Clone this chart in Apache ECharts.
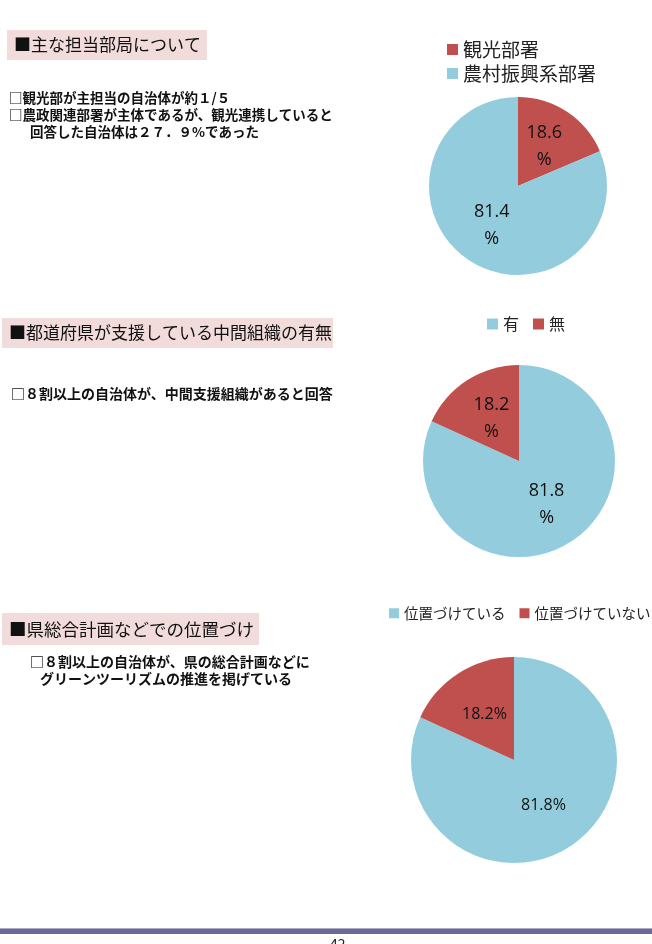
<!DOCTYPE html>
<html><head><meta charset="utf-8">
<script src="https://cdn.jsdelivr.net/npm/echarts@6/dist/echarts.min.js"></script>
<style>html,body{margin:0;padding:0;background:#fff}#c{width:652px;height:944px}</style>
</head><body><div id="c"></div>
<script>
// Data
const pie1Names = ['観光部署', '農村振興系部署'];
const pie1Values = [18.6, 81.4];
const pie2Names = ['有', '無'];
const pie2Values = [81.8, 18.2];
const pie3Names = ['位置づけている', '位置づけていない'];
const pie3Values = [81.8, 18.2];
const headings = ['■主な担当部局について', '■都道府県が支援している中間組織の有無', '■県総合計画などでの位置づけ'];
const notes1 = ['□観光部が主担当の自治体が約１/５', '□農政関連部署が主体であるが、観光連携していると', '回答した自治体は２７．９%であった'];
const notes2 = ['□８割以上の自治体が、中間支援組織があると回答'];
const notes3 = ['□８割以上の自治体が、県の総合計画などに', 'グリーンツーリズムの推進を掲げている'];

const RED = '#c0504d', BLUE = '#93cddd';
const JP = '"Noto Sans CJK JP", sans-serif';
const NUM = '"Open Sans", "Noto Sans", sans-serif';

function items(names, values, colors) {
  return names.map((n, i) => ({ name: n, value: values[i], itemStyle: { color: colors[i] } }));
}
function box(x, y, w, h, text, fs) {
  return [
    { type: 'rect', shape: { x: x, y: y, width: w, height: h }, style: { fill: '#f2dcdb' } },
    { type: 'text', x: x + 7, y: y + h / 2, style: { text: text, font: fs + 'px ' + JP, fill: '#111', verticalAlign: 'middle' } }
  ];
}
function note(x, y, text, fs) {
  return { type: 'text', x: x, y: y, style: { text: text, font: 'bold ' + fs + 'px ' + JP, fill: '#111', verticalAlign: 'middle' } };
}

const chart = echarts.init(document.getElementById('c'));
chart.setOption({
  animation: false,
  legend: [
    { data: pie1Names, orient: 'vertical', left: 442, top: 35, itemWidth: 11, itemHeight: 11, itemGap: 5, icon: 'rect',
      textStyle: { fontFamily: JP, fontSize: 19, color: '#222' } },
    { data: pie2Names, orient: 'horizontal', left: 482, top: 311, itemWidth: 11, itemHeight: 11, itemGap: 14, icon: 'rect',
      textStyle: { fontFamily: JP, fontSize: 16, color: '#222' } },
    { data: pie3Names, orient: 'horizontal', left: 384, top: 601, width: 300, itemWidth: 10, itemHeight: 10, itemGap: 14, icon: 'rect',
      textStyle: { fontFamily: JP, fontSize: 14.5, color: '#222' } }
  ],
  series: [
    { type: 'pie', center: [518, 186], radius: 89, startAngle: 90, clockwise: true,
      data: items(pie1Names, pie1Values, [RED, BLUE]),
      label: { position: 'inside', formatter: '{c}\n%', fontFamily: NUM, fontSize: 18, lineHeight: 27, color: '#111' },
      labelLine: { show: false }, emphasis: { disabled: true } },
    { type: 'pie', center: [519, 461], radius: 96, startAngle: 90, clockwise: true,
      data: items(pie2Names, pie2Values, [BLUE, RED]),
      label: { position: 'inside', formatter: '{c}\n%', fontFamily: NUM, fontSize: 18, lineHeight: 27, color: '#111' },
      labelLine: { show: false }, emphasis: { disabled: true } },
    { type: 'pie', center: [514, 760], radius: 103, startAngle: 90, clockwise: true,
      data: items(pie3Names, pie3Values, [BLUE, RED]),
      label: { position: 'inside', formatter: '{c}%', fontFamily: NUM, fontSize: 16, color: '#111' },
      labelLine: { show: false }, emphasis: { disabled: true } }
  ],
  graphic: [].concat(
    box(7, 30, 200, 30, headings[0], 17),
    [note(9, 98, notes1[0], 13.5), note(9, 115, notes1[1], 13.5), note(30, 132, notes1[2], 13.5)],
    box(2, 318, 331, 30, headings[1], 17),
    [note(11, 394, notes2[0], 14)],
    box(2, 613, 257, 32, headings[2], 17.5),
    [note(30, 662, notes3[0], 14), note(40, 679, notes3[1], 14)],
    [
      { type: 'rect', shape: { x: 0, y: 929, width: 652, height: 5 }, style: { fill: '#6a6a96' } },
      { type: 'rect', shape: { x: 0, y: 928, width: 652, height: 1 }, style: { fill: '#a9a9c8' } },
      { type: 'text', x: 330, y: 937, style: { text: '42', font: '14px ' + JP, fill: '#222' } }
    ]
  )
});
</script></body></html>
